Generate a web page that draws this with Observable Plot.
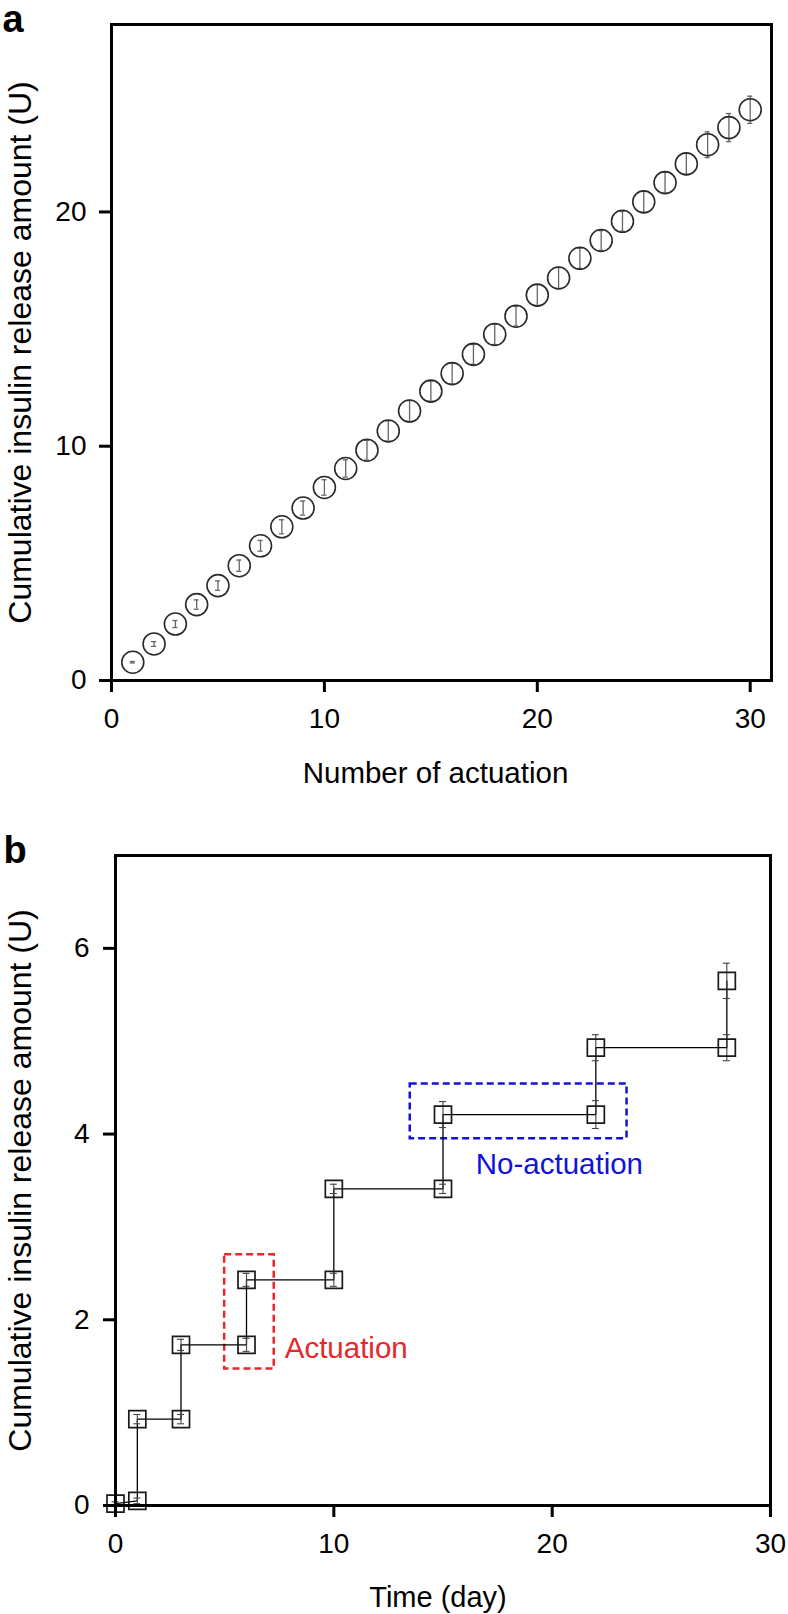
<!DOCTYPE html>
<html><head><meta charset="utf-8">
<script src="https://cdn.jsdelivr.net/npm/d3@7"></script>
<script src="https://cdn.jsdelivr.net/npm/@observablehq/plot@0.6"></script>
<style>
body{margin:0;background:#fff;}
#chart svg{display:block;}
</style>
</head><body><div id="chart"></div>
<script>
// ---------- Data: panel a ----------
const actuations = [1,2,3,4,5,6,7,8,9,10,11,12,13,14,15,16,17,18,19,20,21,22,23,24,25,26,27,28,29,30];
const cumulativeA = [0.78,1.56,2.41,3.24,4.05,4.90,5.75,6.56,7.36,8.24,9.05,9.83,10.65,11.50,12.35,13.10,13.92,14.77,15.55,16.45,17.18,18.02,18.78,19.60,20.43,21.25,22.05,22.87,23.60,24.36];
const errorA = [0.03,0.10,0.15,0.20,0.20,0.24,0.23,0.30,0.30,0.33,0.37,0.42,0.43,0.45,0.43,0.45,0.42,0.43,0.42,0.45,0.45,0.43,0.42,0.42,0.45,0.45,0.45,0.55,0.60,0.58];
const xTicksA = [0,10,20,30];
const yTicksA = [0,10,20];

// ---------- Data: panel b ----------
const days = [0,1,1,3,3,6,6,10,10,15,15,22,22,28,28];
const cumulativeB = [0.02,0.05,0.93,0.93,1.73,1.73,2.43,2.43,3.41,3.41,4.21,4.21,4.93,4.93,5.65];
const errorB = [0.02,0.03,0.05,0.05,0.06,0.07,0.07,0.07,0.05,0.05,0.14,0.15,0.14,0.14,0.19];
const xTicksB = [0,10,20,30];
const yTicksB = [0,2,4,6];

// ---------- Text ----------
const yLabel = "Cumulative insulin release amount (U)";
const xLabelA = "Number of actuation";
const xLabelB = "Time (day)";
const annotations = [
  {text: "Actuation", x: 7.75, y: 1.69, color: "#e8262b"},
  {text: "No-actuation", x: 16.5, y: 3.67, color: "#1212d8"}
];
const boxes = [
  {x1: 5.0, x2: 7.27, y1: 1.47, y2: 2.70, color: "#e8262b"},
  {x1: 13.5, x2: 23.43, y1: 3.95, y2: 4.54, color: "#1212d8"}
];

const FONT = "'Liberation Sans', Arial, Helvetica, sans-serif";
const dataA = actuations.map((n, i) => ({n, v: cumulativeA[i], e: errorA[i]}));
const dataB = days.map((d, i) => ({d, v: cumulativeB[i], e: errorB[i]}));

const capA = 0.12, capB = 0.16;
const fmt = d => String(d);
const styleObj = {fontFamily: FONT, fontSize: "28px", background: "white", color: "black"};

const plotA = Plot.plot({
  width: 788, height: 800,
  marginLeft: 111, marginRight: 17, marginTop: 24, marginBottom: 120,
  style: styleObj,
  x: {domain: [0, 31]},
  y: {domain: [0, 28]},
  marks: [
    Plot.ruleX(dataA, {x: "n", y1: d => d.v - d.e, y2: d => d.v + d.e, stroke: "#666", strokeWidth: 1.3}),
    Plot.ruleY(dataA, {y: d => d.v - d.e, x1: d => d.n - capA, x2: d => d.n + capA, stroke: "#666", strokeWidth: 1.3}),
    Plot.ruleY(dataA, {y: d => d.v + d.e, x1: d => d.n - capA, x2: d => d.n + capA, stroke: "#666", strokeWidth: 1.3}),
    Plot.dot(dataA, {x: "n", y: "v", r: 11, stroke: "#2a2a2a", strokeWidth: 1.6, fill: "none"}),
    Plot.frame({stroke: "black", strokeWidth: 3}),
    Plot.axisX({ticks: xTicksA, tickFormat: fmt, tickSize: 12, tickPadding: 16, strokeWidth: 3, label: null}),
    Plot.axisY({ticks: yTicksA, tickFormat: fmt, tickSize: 12, tickPadding: 13, strokeWidth: 3, label: null}),
    Plot.text([yLabel], {frameAnchor: "left", textAnchor: "middle", lineAnchor: "middle", dx: -91, rotate: -90, fontSize: 32, text: d => d}),
    Plot.text([xLabelA], {frameAnchor: "bottom", textAnchor: "middle", lineAnchor: "middle", dx: -6, dy: 92.6, fontSize: 29.5, text: d => d}),
    Plot.text(["a"], {frameAnchor: "top-left", textAnchor: "start", lineAnchor: "middle", dx: -109, dy: -5, fontSize: 38, fontWeight: "bold", text: d => d})
  ]
});

const plotB = Plot.plot({
  width: 788, height: 814,
  marginLeft: 115, marginRight: 18, marginTop: 55, marginBottom: 109,
  style: styleObj,
  x: {domain: [0, 30]},
  y: {domain: [0, 7]},
  marks: [
    Plot.rect(boxes, {x1: "x1", x2: "x2", y1: "y1", y2: "y2", fill: "none", stroke: "color", strokeWidth: 2.5, strokeDasharray: "7,4"}),
    Plot.line(dataB, {x: "d", y: "v", stroke: "black", strokeWidth: 1.3}),
    Plot.ruleX(dataB, {x: "d", y1: d => d.v - d.e, y2: d => d.v + d.e, stroke: "#444", strokeWidth: 1.1}),
    Plot.ruleY(dataB, {y: d => d.v - d.e, x1: d => d.d - capB, x2: d => d.d + capB, stroke: "#444", strokeWidth: 1.1}),
    Plot.ruleY(dataB, {y: d => d.v + d.e, x1: d => d.d - capB, x2: d => d.d + capB, stroke: "#444", strokeWidth: 1.1}),
    Plot.dot(dataB, {x: "d", y: "v", symbol: "square", r: 9.6, stroke: "#1a1a1a", strokeWidth: 1.7, fill: "none"}),
    Plot.frame({stroke: "black", strokeWidth: 3}),
    Plot.axisX({ticks: xTicksB, tickFormat: fmt, tickSize: 12, tickPadding: 16, strokeWidth: 3, label: null}),
    Plot.axisY({ticks: yTicksB, tickFormat: fmt, tickSize: 12, tickPadding: 14, strokeWidth: 3, label: null}),
    Plot.text(annotations, {x: "x", y: "y", text: "text", fill: "color", textAnchor: "start", lineAnchor: "middle", fontSize: 29.5}),
    Plot.text([yLabel], {frameAnchor: "left", textAnchor: "middle", lineAnchor: "middle", dx: -95, rotate: -90, fontSize: 32, text: d => d}),
    Plot.text([xLabelB], {frameAnchor: "bottom", textAnchor: "middle", lineAnchor: "middle", dx: -5, dy: 92.7, fontSize: 29, text: d => d}),
    Plot.text(["b"], {frameAnchor: "top-left", textAnchor: "start", lineAnchor: "middle", dx: -112, dy: -5, fontSize: 38, fontWeight: "bold", text: d => d})
  ]
});

document.getElementById("chart").append(plotA, plotB);
</script>
</body></html>
